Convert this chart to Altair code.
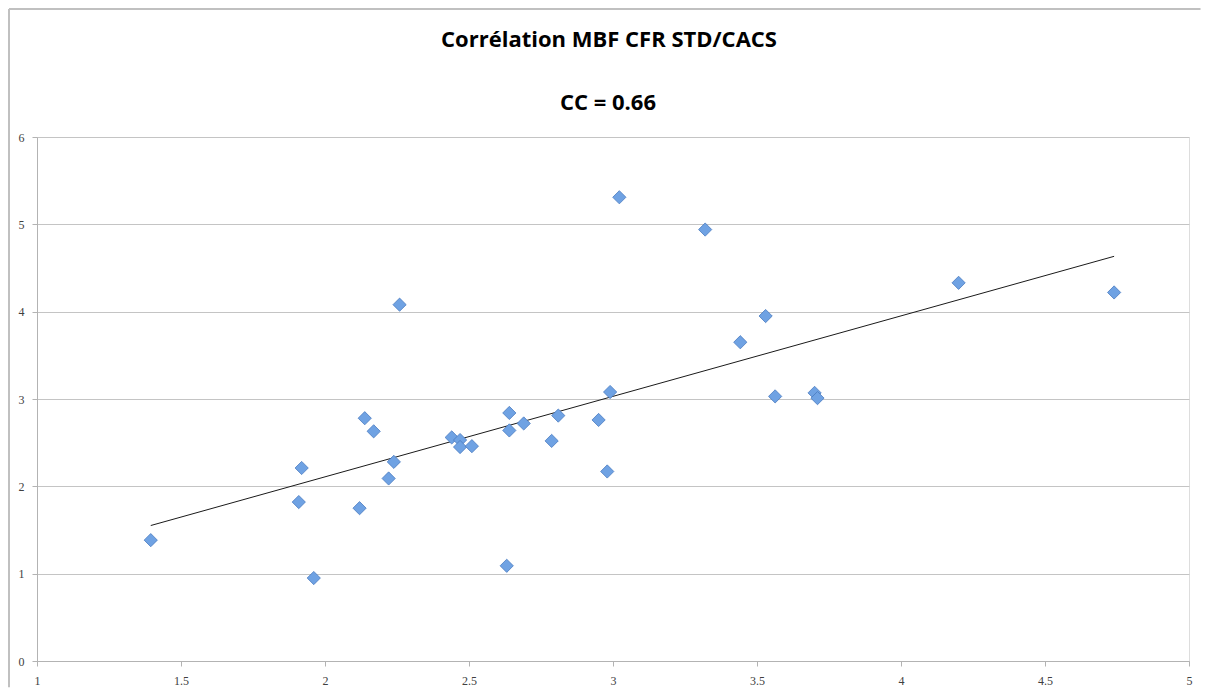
import altair as alt
import pandas as pd

x_vals = [1.395, 1.909, 1.919, 1.961, 2.120, 2.138, 2.169, 2.221, 2.239, 2.259,
          2.440, 2.469, 2.469, 2.510, 2.631, 2.640, 2.640, 2.690, 2.787, 2.810,
          2.950, 2.980, 2.990, 3.022, 3.320, 3.442, 3.530, 3.563, 3.700, 3.710,
          4.200, 4.740]
y_vals = [1.384, 1.82, 2.21, 0.95, 1.75, 2.78, 2.63, 2.09, 2.28, 4.08,
          2.56, 2.53, 2.45, 2.46, 1.09, 2.84, 2.64, 2.72, 2.52, 2.81,
          2.76, 2.17, 3.08, 5.31, 4.94, 3.65, 3.95, 3.03, 3.07, 3.01,
          4.33, 4.22]
x_ticks = [1, 1.5, 2, 2.5, 3, 3.5, 4, 4.5, 5]
y_ticks = [0, 1, 2, 3, 4, 5, 6]
title_text = "Corrélation MBF CFR STD/CACS"
subtitle_text = "CC = 0.66"

df = pd.DataFrame({"x": x_vals, "y": y_vals})
frame_df = pd.DataFrame({"k": [0]})
title_df = pd.DataFrame({"t": [title_text]})
subtitle_df = pd.DataFrame({"t": [subtitle_text]})

xs = alt.Scale(domain=[1, 5], nice=False, zero=False)
ys = alt.Scale(domain=[0, 6], nice=False)

x_axis = alt.Axis(values=x_ticks, format="~g", grid=False, title=None,
                  domainColor="#b3b3b3", tickColor="#b3b3b3", tickSize=5,
                  labelFlush=False, labelOverlap=False,
                  labelFont="Liberation Sans Narrow", labelFontSize=12,
                  labelColor="#404040", labelPadding=9)
y_axis = alt.Axis(values=y_ticks, format="d", grid=True, gridColor="#c4c4c4",
                  gridWidth=1, title=None, domainColor="#b3b3b3",
                  tickColor="#b3b3b3", tickSize=5, labelFlush=False,
                  labelFont="Liberation Sans Narrow", labelFontSize=12,
                  labelColor="#404040", labelPadding=8)

base = alt.Chart(df)

points = base.mark_point(shape="diamond", filled=True, size=175,
                         fill="#6fa2e3", stroke="#4a7bc0", strokeWidth=0.8,
                         opacity=1).encode(
    x=alt.X("x:Q", scale=xs, axis=x_axis),
    y=alt.Y("y:Q", scale=ys, axis=y_axis),
)

trend = base.transform_regression("x", "y").mark_line(
    color="#1a1a1a", strokeWidth=1).encode(
    x=alt.X("x:Q", scale=xs),
    y=alt.Y("y:Q", scale=ys),
)

# decorative chart-area frame (top and left edges, as in the reference)
frame_top = alt.Chart(frame_df).mark_rule(color="#c0c0c0", strokeWidth=2, clip=False).encode(
    x=alt.datum(5.04, scale=xs), x2=alt.value(-28), y=alt.value(-128))
frame_left = alt.Chart(frame_df).mark_rule(color="#c0c0c0", strokeWidth=2, clip=False).encode(
    y=alt.datum(-0.3, scale=ys), y2=alt.value(-128), x=alt.value(-28))

title_mark = alt.Chart(title_df).mark_text(
    font="Open Sans", fontSize=22, fontWeight="bold", color="#000000",
    align="center", baseline="alphabetic").encode(
    text="t:N", x=alt.value(572), y=alt.value(-90))
subtitle_mark = alt.Chart(subtitle_df).mark_text(
    font="Open Sans", fontSize=22, fontWeight="bold", color="#000000",
    align="center", baseline="alphabetic").encode(
    text="t:N", x=alt.value(571), y=alt.value(-27))

chart = alt.layer(frame_top, frame_left, trend, points, title_mark, subtitle_mark).properties(
    width=1194,
    height=689,
    padding=0,
    autosize=alt.AutoSizeParams(type="fit", contains="padding"),
).configure_view(stroke=None).configure(background="white")

chart.save("out.html", embed_options={"renderer": "svg", "actions": False})
